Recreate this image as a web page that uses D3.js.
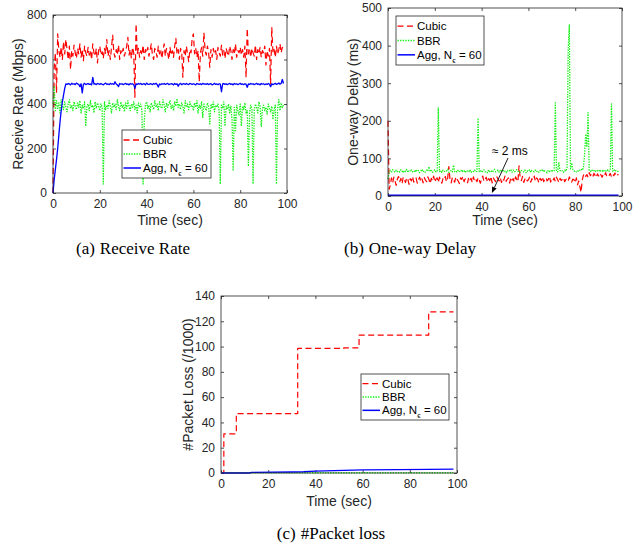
<!DOCTYPE html>
<html>
<head>
<meta charset="utf-8">
<script src="https://cdn.jsdelivr.net/npm/d3@7"></script>
<style>
  body { margin: 0; background: #fff; }
  svg { display: block; font-family: "Liberation Sans", Arial, Helvetica, sans-serif; }
</style>
</head>
<body>
<svg id="fig" width="637" height="544"></svg>
<script>
// ---- tick labels ----
const timeTicks = [0, 20, 40, 60, 80, 100];
const rateTicks = [0, 200, 400, 600, 800];
const delayTicks = [0, 100, 200, 300, 400, 500];
const lossTicks = [0, 20, 40, 60, 80, 100, 120, 140];

// ---- legend entries ----
const seriesNames = ["Cubic", "BBR", "Agg"];

// ---- receive rate (Mbps), one sample every 0.5 s from t = 0 ----
const sampleStep = 0.5;
const cubicRate = [
  0, 560, 630, 450, 715, 640, 610, 655, 600, 680,
  625, 690, 645, 600, 660, 555, 640, 615, 665, 630,
  605, 650, 625, 670, 610, 645, 595, 660, 630, 615,
  655, 620, 640, 600, 670, 630, 615, 650, 585, 640,
  660, 620, 635, 605, 650, 625, 690, 615, 640, 600,
  655, 710, 630, 610, 645, 620, 665, 600, 640, 625,
  650, 615, 635, 660, 700, 620, 645, 605, 655, 630,
  430, 760, 625, 650, 610, 640, 620, 665, 600, 645,
  630, 655, 615, 640, 670, 620, 600, 650, 635, 610,
  660, 625, 645, 605, 640, 670, 615, 650, 630, 600,
  655, 620, 640, 610, 660, 695, 625, 645, 600, 650,
  635, 520, 640, 615, 660, 625, 590, 645, 630, 700,
  715, 625, 650, 610, 640, 500, 630, 655, 615, 720,
  640, 620, 660, 630, 565, 645, 610, 650, 625, 640,
  600, 655, 630, 615, 665, 620, 640, 605, 650, 630,
  615, 660, 640, 600, 645, 625, 670, 610, 640, 630,
  655, 620, 645, 610, 660, 520, 740, 625, 645, 610,
  650, 630, 615, 665, 600, 645, 625, 655, 610, 640,
  630, 660, 575, 640, 615, 650, 490, 745, 630, 645,
  610, 660, 625, 645, 670, 630, 655, 640
];
const bbrRate = [
  400, 480, 370, 415, 380, 405, 360, 420, 390, 375,
  410, 385, 365, 400, 420, 380, 395, 370, 410, 390,
  375, 405, 385, 415, 360, 395, 380, 410, 300, 390,
  400, 370, 415, 385, 395, 360, 410, 380, 405, 390,
  370, 400, 385, 40, 410, 375, 395, 380, 415, 390,
  360, 405, 385, 400, 375, 420, 390, 370, 410, 385,
  395, 365, 405, 380, 415, 390, 370, 400, 385, 410,
  375, 395, 360, 405, 385, 400, 370, 40, 320, 395,
  410, 380, 395, 365, 405, 390, 375, 415, 385, 400,
  370, 410, 390, 380, 420, 395, 365, 405, 385, 400,
  415, 380, 395, 370, 410, 390, 425, 385, 400, 375,
  405, 390, 360, 415, 385, 400, 375, 410, 390, 395,
  370, 405, 385, 415, 360, 395, 380, 410, 340, 400,
  385, 370, 405, 390, 310, 400, 380, 410, 365, 395,
  385, 400, 370, 40, 395, 380, 410, 300, 390, 375,
  400, 360, 390, 330, 100, 385, 280, 395, 370, 350,
  400, 300, 390, 375, 405, 360, 370, 120, 360, 395,
  380, 40, 370, 400, 385, 360, 410, 390, 300, 380,
  395, 370, 385, 355, 400, 380, 365, 390, 330, 375,
  395, 40, 380, 420, 370, 405, 385, 395
];
const aggRate = [
  0, 60, 105, 150, 200, 260, 320, 370, 410, 440, 470, 490,
  488, 492, 490, 486, 493, 489, 491, 487, 494, 490,
  488, 478, 491, 450, 489, 493, 487, 490, 492, 488,
  490, 486, 520, 489, 491, 487, 493, 490, 488, 492,
  489, 486, 491, 494, 488, 490, 487, 493, 489, 491,
  488, 500, 490, 486, 478, 492, 489, 491, 487, 490,
  493, 488, 490, 486, 492, 489, 491, 487, 470, 490,
  488, 492, 489, 493, 487, 490, 491, 486, 494, 489,
  488, 491, 490, 487, 492, 489, 493, 488, 476, 490,
  487, 491, 489, 492, 488, 490, 493, 487, 489, 491,
  490, 486, 492, 488, 491, 480, 489, 493, 487, 490,
  491, 488, 492, 489, 487, 493, 490, 488, 491, 489,
  486, 492, 490, 488, 491, 487, 493, 489, 490, 488,
  492, 487, 490, 491, 486, 489, 493, 488, 490, 487,
  491, 489, 455, 490, 492, 488, 491, 487, 490, 493,
  488, 490, 486, 492, 489, 491, 487, 490, 493, 488,
  490, 487, 491, 489, 475, 490, 488, 492, 489, 491,
  487, 490, 493, 488, 490, 486, 492, 489, 491, 487,
  490, 488, 492, 489, 478, 491, 487, 490, 493, 488,
  490, 495, 489, 492, 510, 492
];

// ---- one-way delay (ms), one sample every 0.5 s from t = 0 ----
const cubicDelay = [
  200, 18, 30, 48, 35, 50, 40, 28, 45, 52,
  38, 47, 33, 50, 42, 36, 49, 44, 31, 46,
  40, 52, 37, 45, 48, 34, 43, 50, 39, 46,
  35, 49, 42, 38, 51, 44, 33, 47, 40, 53,
  37, 45, 48, 36, 50, 41, 34, 46, 43, 52,
  38, 47, 78, 44, 35, 49, 42, 37, 51, 45,
  40, 33, 48, 44, 52, 38, 46, 41, 35, 50,
  43, 47, 36, 51, 40, 45, 38, 49, 42, 34,
  47, 53, 39, 44, 50, 37, 46, 41, 52, 35,
  48, 43, 38, 51, 45, 40, 49, 36, 47, 42,
  53, 39, 45, 48, 34, 50, 42, 46, 37, 51,
  44, 38, 80, 47, 41, 52, 36, 45, 49, 40,
  43, 50, 37, 46, 42, 53, 39, 48, 44, 35,
  47, 41, 51, 38, 45, 49, 40, 44, 52, 37,
  46, 42, 48, 39, 50, 43, 36, 47, 41, 45,
  49, 38, 44, 46, 40, 51, 42, 37, 45, 43,
  35, 48, 30, 40, 25, 10, 42, 55, 60, 52,
  57, 50, 62, 54, 58, 51, 60, 55, 49, 59,
  53, 61, 56, 50, 58, 54, 62, 52, 57, 55,
  60, 51, 58, 54, 61, 53, 57, 56
];
const bbrDelay = [
  45, 62, 68, 64, 70, 66, 63, 69, 65, 67,
  64, 70, 66, 62, 68, 65, 71, 63, 67, 66,
  69, 64, 67, 63, 70, 65, 68, 62, 66, 71,
  64, 67, 63, 69, 66, 78, 65, 68, 63, 67,
  70, 64, 66, 235, 65, 68, 63, 69, 66, 64,
  67, 71, 63, 66, 68, 64, 82, 65, 67, 63,
  69, 66, 64, 70, 65, 67, 62, 68, 66, 64,
  70, 63, 67, 65, 69, 64, 66, 207, 65, 68,
  63, 67, 70, 64, 66, 62, 69, 65, 68, 63,
  67, 71, 64, 66, 69, 63, 68, 65, 70, 64,
  66, 62, 68, 65, 67, 71, 63, 69, 64, 66,
  70, 65, 67, 63, 68, 66, 64, 69, 62, 67,
  65, 70, 63, 68, 66, 64, 69, 65, 67, 63,
  68, 66, 71, 64, 67, 65, 62, 69, 66, 64,
  70, 65, 67, 248, 66, 64, 90, 68, 65, 67,
  63, 69, 66, 75, 390, 455, 72, 88, 70, 66,
  68, 64, 67, 65, 69, 72, 68, 75, 110, 165,
  130, 222, 68, 65, 70, 66, 68, 64, 69, 67,
  65, 70, 66, 68, 64, 69, 67, 65, 70, 66,
  68, 245, 66, 70, 65, 68, 67, 64
];
const aggDelayTime = [0, 25, 50, 75, 98.5];
const aggDelay = [2, 2, 2, 2, 2];

// ---- cumulative packet loss (thousands), step series ----
const cubicLossTime = [0, 1.2, 6.5, 32.5, 52, 58.5, 88, 98.5];
const cubicLoss = [0, 31, 47, 98.5, 99, 109, 127.5, 127.5];
const bbrLossTime = [0, 98.5];
const bbrLoss = [0.2, 0.2];
const aggLossTime = [0, 12, 13, 30, 35, 40, 52, 60, 75, 88, 98.5];
const aggLoss = [0, 0, 0.5, 0.8, 1, 1.5, 2, 2.5, 2.6, 2.8, 3];

// ---- styles ----
const axisColor = "#262626";
const styles = {
  Cubic: { color: "#ff0000", dash: "6,3.5", width: 1.2 },
  BBR:   { color: "#19f019", dash: "1.4,1.2", width: 1.3 },
  Agg:   { color: "#0000ff", dash: null, width: 1.3 }
};

const svg = d3.select("#fig");

function pairs(times, values) { return values.map((v, i) => [times[i], v]); }
function sampled(values) { return values.map((v, i) => [i * sampleStep, v]); }

function panel(box, yMax, yTickVals, yLabel, yLabelX, xLabelY) {
  const g = svg.append("g");
  const x = d3.scaleLinear([0, 100], [box.l, box.r]);
  const y = d3.scaleLinear([0, yMax], [box.b, box.t]);

  const styleAxis = sel => {
    sel.select(".domain").remove();
    sel.selectAll(".tick line").attr("stroke", axisColor).attr("stroke-width", 0.8);
    sel.selectAll(".tick text").attr("fill", axisColor)
      .style("font-family", "'Liberation Sans', Arial, sans-serif").style("font-size", "12px");
  };
  g.append("g").attr("transform", `translate(0,${box.b})`)
    .call(d3.axisBottom(x).tickValues(timeTicks).tickSize(-3).tickPadding(6)).call(styleAxis);
  g.append("g").attr("transform", `translate(0,${box.t})`)
    .call(d3.axisTop(x).tickValues(timeTicks).tickSize(-3).tickFormat("")).call(styleAxis);
  g.append("g").attr("transform", `translate(${box.l},0)`)
    .call(d3.axisLeft(y).tickValues(yTickVals).tickSize(-3).tickPadding(6)).call(styleAxis);
  g.append("g").attr("transform", `translate(${box.r},0)`)
    .call(d3.axisRight(y).tickValues(yTickVals).tickSize(-3).tickFormat("")).call(styleAxis);

  g.append("rect")
    .attr("x", box.l).attr("y", box.t)
    .attr("width", box.r - box.l).attr("height", box.b - box.t)
    .attr("fill", "none").attr("stroke", axisColor).attr("stroke-width", 0.8);

  g.append("text")
    .attr("transform", `translate(${yLabelX},${(box.t + box.b) / 2}) rotate(-90)`)
    .attr("text-anchor", "middle").attr("dominant-baseline", "central")
    .attr("fill", axisColor).style("font-size", "14px").text(yLabel);
  g.append("text")
    .attr("x", (box.l + box.r) / 2).attr("y", xLabelY)
    .attr("text-anchor", "middle").attr("fill", axisColor)
    .style("font-size", "14px").text("Time (sec)");

  const lines = g.insert("g", "rect");
  return { g, x, y, lines };
}

function drawSeries(p, name, pts, curve) {
  const s = styles[name];
  const line = d3.line().x(d => p.x(d[0])).y(d => p.y(d[1])).curve(curve || d3.curveLinear);
  p.lines.append("path")
    .attr("d", line(pts))
    .attr("fill", "none")
    .attr("stroke", s.color)
    .attr("stroke-width", s.width)
    .attr("stroke-dasharray", s.dash)
    .attr("stroke-linejoin", "round");
}

function legend(p, lx, ly, w, h) {
  const lg = p.g.append("g");
  lg.append("rect").attr("x", lx).attr("y", ly).attr("width", w).attr("height", h)
    .attr("fill", "#fff").attr("stroke", axisColor).attr("stroke-width", 0.8);
  const rowH = (h - 6) / 3;
  seriesNames.forEach((name, i) => {
    const cy = ly + 3 + rowH * (i + 0.5);
    const s = styles[name];
    lg.append("line").attr("x1", lx + 1.5).attr("x2", lx + 19).attr("y1", cy).attr("y2", cy)
      .attr("stroke", s.color).attr("stroke-width", s.width + 0.2)
      .attr("stroke-dasharray", s.dash);
    const t = lg.append("text").attr("x", lx + 21).attr("y", cy + 4)
      .attr("fill", "#000").style("font-size", "11.5px");
    if (name === "Agg") {
      t.append("tspan").text("Agg, N");
      t.append("tspan").attr("dy", 4).style("font-size", "8px").text("\u03F5");
      t.append("tspan").attr("dy", -4).text(" = 60");
    } else {
      t.text(name);
    }
  });
}

// (a) Receive rate
const pa = panel({ l: 53, r: 287, t: 15, b: 193 }, 800, rateTicks, "Receive Rate (Mbps)", 18, 225);
drawSeries(pa, "Cubic", sampled(cubicRate));
drawSeries(pa, "BBR", sampled(bbrRate));
drawSeries(pa, "Agg", sampled(aggRate));
legend(pa, 122, 130, 89, 48);

// (b) One-way delay
const pb = panel({ l: 388, r: 622, t: 8, b: 196 }, 500, delayTicks, "One-way Delay (ms)", 353, 225);
drawSeries(pb, "Cubic", sampled(cubicDelay));
drawSeries(pb, "BBR", sampled(bbrDelay));
drawSeries(pb, "Agg", pairs(aggDelayTime, aggDelay));
legend(pb, 396, 16, 88, 49);

// annotation: Agg delay level
const arrowTail = [51.3, 101], arrowHead = [44.4, 8];
{
  const x1 = pb.x(arrowTail[0]), y1 = pb.y(arrowTail[1]);
  const x2 = pb.x(arrowHead[0]), y2 = pb.y(arrowHead[1]);
  const ang = Math.atan2(y2 - y1, x2 - x1);
  const L = 6, W = 2.5;
  const bx = x2 - L * Math.cos(ang), by = y2 - L * Math.sin(ang);
  pb.g.append("line").attr("x1", x1).attr("y1", y1).attr("x2", bx).attr("y2", by)
    .attr("stroke", "#000").attr("stroke-width", 0.9);
  pb.g.append("path")
    .attr("d", `M${x2},${y2}L${bx + W * Math.sin(ang)},${by - W * Math.cos(ang)}L${bx - W * Math.sin(ang)},${by + W * Math.cos(ang)}Z`)
    .attr("fill", "#000");
  pb.g.append("text").attr("x", pb.x(44.4)).attr("y", pb.y(110))
    .attr("fill", "#000").style("font-size", "12px").text("\u2248 2 ms");
}

// (c) Packet loss
const pc = panel({ l: 221, r: 457, t: 296, b: 473 }, 140, lossTicks, "#Packet Loss (/1000)", 188, 506);
drawSeries(pc, "Cubic", pairs(cubicLossTime, cubicLoss), d3.curveStepAfter);
drawSeries(pc, "BBR", pairs(bbrLossTime, bbrLoss));
drawSeries(pc, "Agg", pairs(aggLossTime, aggLoss));
legend(pc, 361, 374, 88, 46);

// sub-figure captions
function caption(cx, cy, tag, title) {
  const t = svg.append("text").attr("x", cx).attr("y", cy).attr("text-anchor", "middle")
    .style("font-family", "'Liberation Serif', 'Times New Roman', serif").style("font-size", "17px")
    .attr("fill", "#000");
  t.append("tspan").text(tag);
  t.append("tspan").attr("dx", 5).text(title);
}
caption(133, 254, "(a)", "Receive Rate");
caption(410, 254, "(b)", "One-way Delay");
caption(331, 539, "(c)", "#Packet loss");
</script>
</body>
</html>
